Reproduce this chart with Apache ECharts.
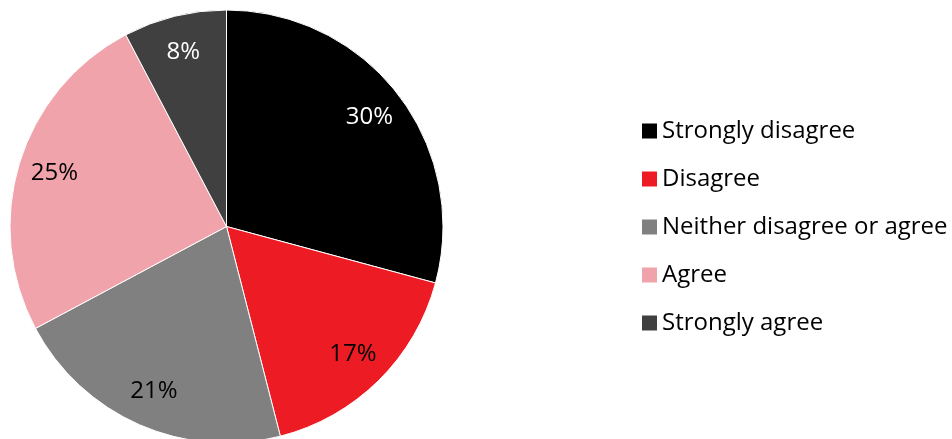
<!DOCTYPE html>
<html>
<head>
<meta charset="utf-8">
<script src="https://cdn.jsdelivr.net/npm/echarts@6/dist/echarts.min.js"></script>
<style>
html,body{margin:0;padding:0;background:#fff;}
#chart{width:952px;height:439px;}
</style>
</head>
<body>
<div id="chart"></div>
<script>
const categories = ['Strongly disagree', 'Disagree', 'Neither disagree or agree', 'Agree', 'Strongly agree'];
const values = [29.2, 16.8, 21.2, 25.1, 7.7];
const labels = ['30%', '17%', '21%', '25%', '8%'];
const colors = ['#000000', '#ED1C24', '#808080', '#F0A3AA', '#404040'];
const labelColors = ['#ffffff', '#000000', '#000000', '#000000', '#ffffff'];

const FONT = '"Open Sans", "Noto Sans", sans-serif';
const center = [226.5, 226.5];
const R = 216.5;
const labelR = 177;

const chart = echarts.init(document.getElementById('chart'), null, {renderer: 'canvas'});
const visibleData = categories.map((c, i) => ({
  name: c, value: values[i], itemStyle: {color: colors[i]}
}));
const labelData = categories.map((c, i) => ({
  name: c, value: values[i],
  label: {color: labelColors[i]}
}));

chart.setOption({
  animation: false,
  legend: {
    data: categories,
    orient: 'vertical',
    left: 642,
    top: 119,
    padding: 0,
    itemWidth: 15,
    itemHeight: 15,
    itemGap: 24,
    icon: 'rect',
    itemStyle: {borderWidth: 0},
    textStyle: {fontFamily: FONT, fontSize: 24, color: '#000', lineHeight: 24},
    selectedMode: false
  },
  series: [
    {
      type: 'pie',
      center: center,
      radius: [0, R],
      startAngle: 90,
      clockwise: true,
      silent: true,
      label: {show: false},
      labelLine: {show: false},
      itemStyle: {borderColor: '#ffffff', borderWidth: 1},
      data: visibleData
    },
    {
      type: 'pie',
      center: center,
      radius: [2 * labelR - R, R],
      startAngle: 90,
      clockwise: true,
      silent: true,
      legendHoverLink: false,
      itemStyle: {color: 'rgba(0,0,0,0)', borderWidth: 0},
      label: {
        show: true,
        position: 'inside',
        fontFamily: FONT,
        fontSize: 24,
        formatter: p => labels[p.dataIndex]
      },
      labelLine: {show: false},
      data: labelData
    }
  ]
});
</script>
</body>
</html>
